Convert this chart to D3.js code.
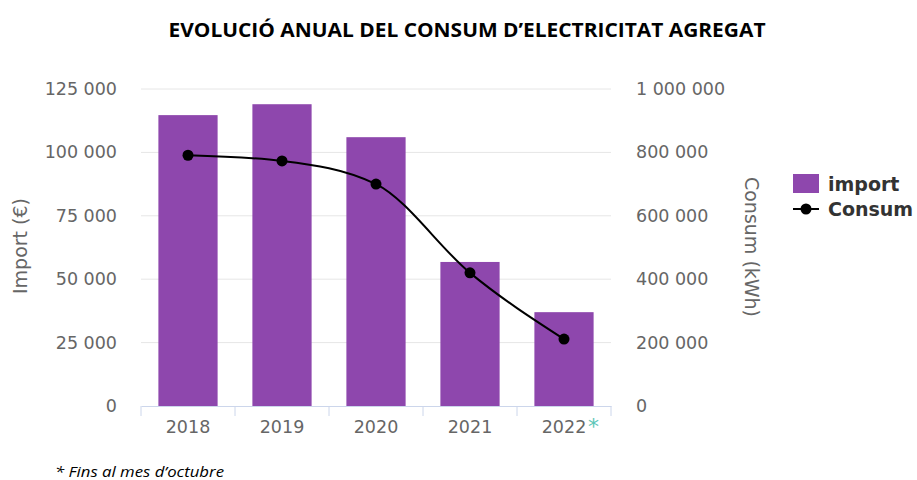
<!DOCTYPE html>
<meta charset="utf-8">
<script src="https://d3js.org/d3.v7.min.js"></script>
<style>
  body { margin: 0; background: #fff; }
  text { font-family: "DejaVu Sans", sans-serif; }
</style>
<div id="chart"></div>
<script>

// data
var years = ["2018", "2019", "2020", "2021", "2022"];
var importEur = [114700, 119000, 106000, 56800, 37000];
var consumKwh = [791000, 773000, 700000, 420000, 211000];
var leftTicks = [0, 25000, 50000, 75000, 100000, 125000];
var rightTicks = [0, 200000, 400000, 600000, 800000, 1000000];

var width = 917,
    height = 480;

var plotL = 141, plotR = 611, plotT = 89, plotB = 406;

var svg = d3.select("#chart")
    .append("svg")
        .attr("width", width)
        .attr("height", height);

var x = d3.scaleBand()
    .domain(years)
    .range([plotL, plotR])
    .paddingInner(0.37)
    .paddingOuter(0.185);

var xTick = d3.scaleBand().domain(years).range([plotL, plotR]);

var yL = d3.scaleLinear().domain([0, 125000]).range([plotB, plotT]);
var yR = d3.scaleLinear().domain([0, 1000000]).range([plotB, plotT]);

// space as thousands separator
var fmt = function(v) { return d3.format(",")(v).replace(/,/g, " "); };

// gridlines
svg.append("g").selectAll("line")
    .data(leftTicks.filter(function(d) { return d > 0; }))
    .enter().append("line")
        .attr("x1", plotL).attr("x2", plotR)
        .attr("y1", function(d) { return yL(d); })
        .attr("y2", function(d) { return yL(d); })
        .attr("stroke", "#e6e6e6")
        .attr("stroke-width", 1);

// left tick labels
svg.append("g").selectAll("text")
    .data(leftTicks)
    .enter().append("text")
        .attr("x", 117)
        .attr("y", function(d) { return yL(d) + 6; })
        .attr("text-anchor", "end")
        .style("font-size", "17.5px")
        .style("fill", "#666")
        .text(fmt);

// right tick labels
svg.append("g").selectAll("text")
    .data(rightTicks)
    .enter().append("text")
        .attr("x", 636)
        .attr("y", function(d) { return yR(d) + 6; })
        .attr("text-anchor", "start")
        .style("font-size", "17.5px")
        .style("fill", "#666")
        .text(fmt);

// bars
svg.append("g").selectAll("rect")
    .data(years)
    .enter().append("rect")
        .attr("x", function(d) { return x(d); })
        .attr("width", x.bandwidth())
        .attr("y", function(d, i) { return yL(importEur[i]); })
        .attr("height", function(d, i) { return plotB - yL(importEur[i]); })
        .attr("fill", "#8e47ad");

// x axis
var xAxis = d3.axisBottom(xTick).tickSize(0).tickPadding(15);
var gx = svg.append("g")
    .attr("transform", "translate(0," + plotB + ")")
    .call(xAxis);
gx.select(".domain").attr("stroke", "#ccd6eb");
gx.selectAll("text").style("font-size", "17.5px").style("fill", "#666")
    .style("font-family", "DejaVu Sans, sans-serif");
// category boundary ticks
gx.append("g").selectAll("line")
    .data(years.concat(["end"]))
    .enter().append("line")
        .attr("x1", function(d, i) { return plotL + i * xTick.step(); })
        .attr("x2", function(d, i) { return plotL + i * xTick.step(); })
        .attr("y1", 0).attr("y2", 10)
        .attr("stroke", "#ccd6eb");
// asterisk on last year
svg.append("text")
    .attr("x", xTick("2022") + xTick.bandwidth() / 2 + 24)
    .attr("y", plotB + 28)
    .style("font-size", "22px")
    .style("fill", "#5cc6b8")
    .text("*");

// line
var pts = years.map(function(d, i) { return [xTick(d) + xTick.bandwidth() / 2, yR(consumKwh[i])]; });
var line = d3.line().curve(d3.curveMonotoneX);
svg.append("path")
    .attr("d", line(pts))
    .attr("fill", "none")
    .attr("stroke", "#000")
    .attr("stroke-width", 2);
svg.append("g").selectAll("circle")
    .data(pts)
    .enter().append("circle")
        .attr("cx", function(d) { return d[0]; })
        .attr("cy", function(d) { return d[1]; })
        .attr("r", 5.5)
        .attr("fill", "#000");

// axis titles
svg.append("text")
    .attr("transform", "translate(27,246) rotate(-90)")
    .attr("text-anchor", "middle")
    .style("font-size", "19px")
    .style("fill", "#666")
    .text("Import (€)");
svg.append("text")
    .attr("transform", "translate(745,247) rotate(90)")
    .attr("text-anchor", "middle")
    .style("font-size", "19px")
    .style("fill", "#666")
    .text("Consum (kWh)");

// legend
svg.append("rect").attr("x", 793).attr("y", 174).attr("width", 26).attr("height", 19).attr("fill", "#8e47ad");
svg.append("text").attr("x", 828).attr("y", 191).text("import")
    .style("font-size", "19px").style("font-weight", "bold").style("fill", "#333");
svg.append("line").attr("x1", 793).attr("x2", 819).attr("y1", 209).attr("y2", 209)
    .attr("stroke", "#000").attr("stroke-width", 2);
svg.append("circle").attr("cx", 806).attr("cy", 209).attr("r", 5.5).attr("fill", "#000");
svg.append("text").attr("x", 828).attr("y", 216).text("Consum")
    .style("font-size", "19px").style("font-weight", "bold").style("fill", "#333");

// title
svg.append("text")
    .attr("x", 467)
    .attr("y", 37)
    .attr("text-anchor", "middle")
    .attr("textLength", 597)
    .attr("lengthAdjust", "spacingAndGlyphs")
    .style("font-family", "Open Sans, sans-serif")
    .style("font-size", "20px")
    .style("font-weight", "bold")
    .style("fill", "#000")
    .text("EVOLUCIÓ ANUAL DEL CONSUM D’ELECTRICITAT AGREGAT");

// footnote
svg.append("text")
    .attr("x", 55)
    .attr("y", 477)
    .attr("textLength", 169)
    .attr("lengthAdjust", "spacingAndGlyphs")
    .style("font-family", "Open Sans, sans-serif")
    .style("font-size", "15px")
    .style("font-style", "italic")
    .style("fill", "#000")
    .text("* Fins al mes d’octubre");

</script>
